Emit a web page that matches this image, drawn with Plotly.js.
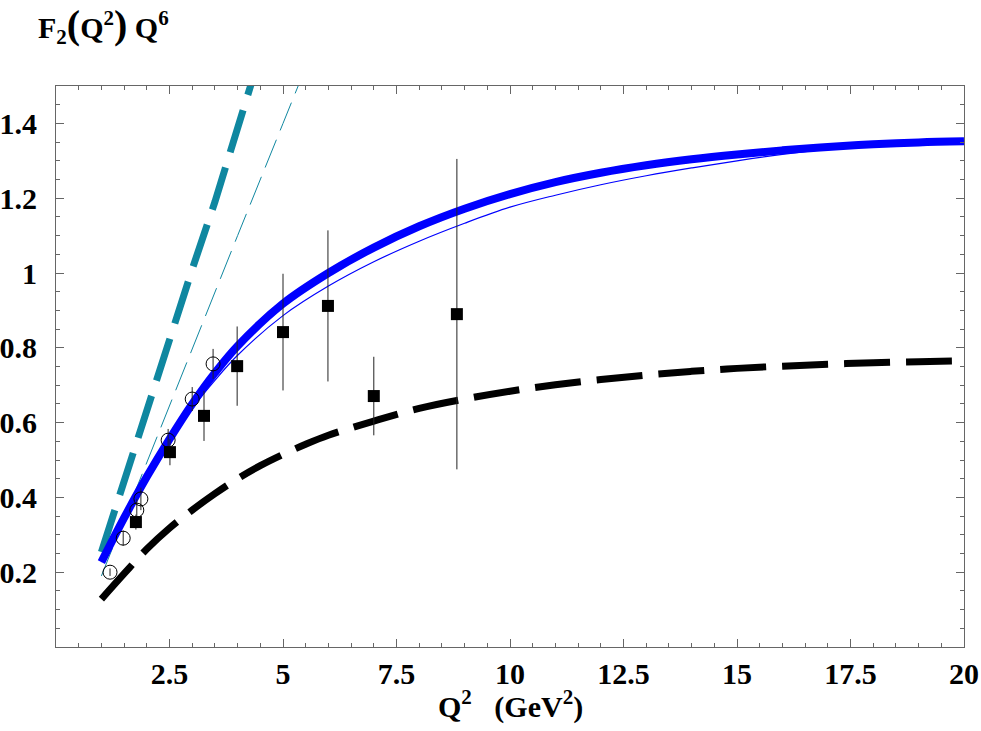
<!DOCTYPE html>
<html>
<head>
<meta charset="utf-8">
<script src="https://cdn.plot.ly/plotly-3.0.1.min.js"></script>
<style>html,body{margin:0;padding:0;background:#fff;}#plot{width:981px;height:731px;}</style>
</head>
<body>
<div id="plot"></div>
<script>
// Thick blue solid curve
const blueThickX = [1, 1.5, 2, 2.5, 3, 3.5, 4, 5, 6, 7, 8, 9, 10, 11, 12, 13, 14, 15, 16, 17, 18, 19, 20];
const blueThickY = [0.227, 0.345, 0.455, 0.556, 0.65, 0.733, 0.805, 0.918, 1.0, 1.068, 1.125, 1.172, 1.211, 1.243, 1.268, 1.288, 1.304, 1.317, 1.328, 1.337, 1.344, 1.349, 1.352];
// Thin blue solid curve
const blueThinX = [1, 1.5, 2, 2.5, 3, 3.5, 4, 5, 6, 7, 8, 9, 10, 11, 12, 13, 14, 15, 16, 17, 18, 19, 20];
const blueThinY = [0.227, 0.345, 0.452, 0.55, 0.638, 0.713, 0.78, 0.886, 0.965, 1.03, 1.085, 1.133, 1.176, 1.208, 1.236, 1.26, 1.281, 1.3, 1.317, 1.331, 1.342, 1.348, 1.352];
// Thick teal dashed curve
const tealThickX = [1, 1.5, 2, 2.5, 3, 3.5, 4, 4.5];
const tealThickY = [0.254, 0.445, 0.64, 0.83, 1.01, 1.19, 1.395, 1.585];
// Thin teal dashed curve
const tealThinX = [1, 2, 3, 4, 5, 5.5];
const tealThinY = [0.19, 0.495, 0.795, 1.10, 1.40, 1.55];
// Thick black dashed curve
const blackX = [1, 1.5, 2, 2.5, 3, 3.5, 4, 4.5, 5, 5.5, 6, 7, 8, 9, 10, 11, 12, 13, 14, 15, 16, 17, 18, 19, 20];
const blackY = [0.128, 0.196, 0.262, 0.318, 0.366, 0.41, 0.45, 0.485, 0.515, 0.542, 0.566, 0.604, 0.638, 0.663, 0.684, 0.701, 0.715, 0.727, 0.737, 0.745, 0.751, 0.756, 0.76, 0.763, 0.765];
// Filled square data points
const sqX = [1.76, 2.51, 3.26, 3.99, 5.0, 5.99, 7.0, 8.83];
const sqY = [0.334, 0.521, 0.618, 0.751, 0.842, 0.912, 0.671, 0.89];
const sqErr = [0.02, 0.035, 0.067, 0.106, 0.156, 0.202, 0.105, 0.415];
// Open circle data points
const circX = [1.19, 1.48, 1.78, 1.87, 2.47, 3.0, 3.46];
const circY = [0.2, 0.291, 0.366, 0.396, 0.553, 0.663, 0.757];
const circErr = [0.01, 0.02, 0.03, 0.03, 0.03, 0.032, 0.04];
// Ticks
const xTicks = [2.5, 5, 7.5, 10, 12.5, 15, 17.5, 20];
const xTickText = ['2.5', '5', '7.5', '10', '12.5', '15', '17.5', '20'];
const yTicks = [0.2, 0.4, 0.6, 0.8, 1, 1.2, 1.4];
const yTickText = ['0.2', '0.4', '0.6', '0.8', '1', '1.2', '1.4'];

const FONT = 'Liberation Serif, Times New Roman, serif';
const TEAL = '#0f87a0';

const traces = [
  {x: tealThinX, y: tealThinY, mode: 'lines', line: {color: TEAL, width: 1, dash: '30px,10px'}, hoverinfo: 'skip'},
  {x: tealThickX, y: tealThickY, mode: 'lines', line: {color: TEAL, width: 7, dash: '44px,16px'}, hoverinfo: 'skip'},
  {x: blackX, y: blackY, mode: 'lines', line: {color: '#000', width: 7, dash: '46px,16px', shape: 'spline'}, hoverinfo: 'skip'},
  {x: blueThinX, y: blueThinY, mode: 'lines', line: {color: '#0000ff', width: 1.2, shape: 'spline'}, hoverinfo: 'skip'},
  {x: blueThickX, y: blueThickY, mode: 'lines', line: {color: '#0000ff', width: 8, shape: 'spline'}, hoverinfo: 'skip'},
  {x: circX, y: circY, mode: 'markers', marker: {symbol: 'circle-open', size: 14, color: '#000', line: {width: 1, color: '#000'}},
   error_y: {type: 'data', array: circErr, visible: true, width: 0, thickness: 1, color: '#222'}},
  {x: sqX, y: sqY, mode: 'markers', marker: {symbol: 'square', size: 12, color: '#000'},
   error_y: {type: 'data', array: sqErr, visible: true, width: 0, thickness: 1, color: '#222'}}
];

const axisCommon = {
  showgrid: false, zeroline: false, showline: true, linecolor: '#666', linewidth: 1,
  mirror: 'ticks', ticks: 'inside', ticklen: 8, tickcolor: '#666', tickwidth: 1,
  tickfont: {family: FONT, size: 30, color: '#000', weight: 700},
  tickmode: 'array'
};

const layout = {
  width: 981, height: 731,
  margin: {l: 56, r: 17, t: 86, b: 84},
  paper_bgcolor: '#fff', plot_bgcolor: '#fff',
  showlegend: false,
  xaxis: Object.assign({}, axisCommon, {
    range: [0, 20], tickvals: xTicks, ticktext: xTickText.map(t => '<b>' + t + '</b>'), ticklabelstandoff: 0,
    minor: {tickmode: 'linear', tick0: 0, dtick: 0.5, ticklen: 4, tickcolor: '#666', ticks: 'inside'}
  }),
  yaxis: Object.assign({}, axisCommon, {
    range: [0, 1.5], tickvals: yTicks, ticktext: yTickText.map(t => '<b>' + t + '</b>'), ticklabelstandoff: 12,
    minor: {tickmode: 'linear', tick0: 0, dtick: 0.05, ticklen: 4, tickcolor: '#666', ticks: 'inside'}
  }),
  annotations: [{
    xref: 'paper', yref: 'paper', x: -0.022, y: 1.108, xanchor: 'left', yanchor: 'middle', showarrow: false,
    text: '<b>F<sub>2</sub></b><span style="font-size:40px">(</span><b>Q<sup>2</sup></b><span style="font-size:40px">)</span><b> Q<sup>6</sup></b>',
    font: {family: FONT, size: 30, color: '#000', weight: 700}
  }, {
    xref: 'paper', yref: 'paper', x: 0.5, y: -0.103, xanchor: 'center', yanchor: 'middle', showarrow: false,
    text: '<b>Q<sup>2</sup>   (GeV<sup>2</sup>)</b>',
    font: {family: FONT, size: 30, color: '#000', weight: 700}
  }]
};

Plotly.newPlot('plot', traces, layout, {displayModeBar: false, staticPlot: true});
</script>
</body>
</html>
